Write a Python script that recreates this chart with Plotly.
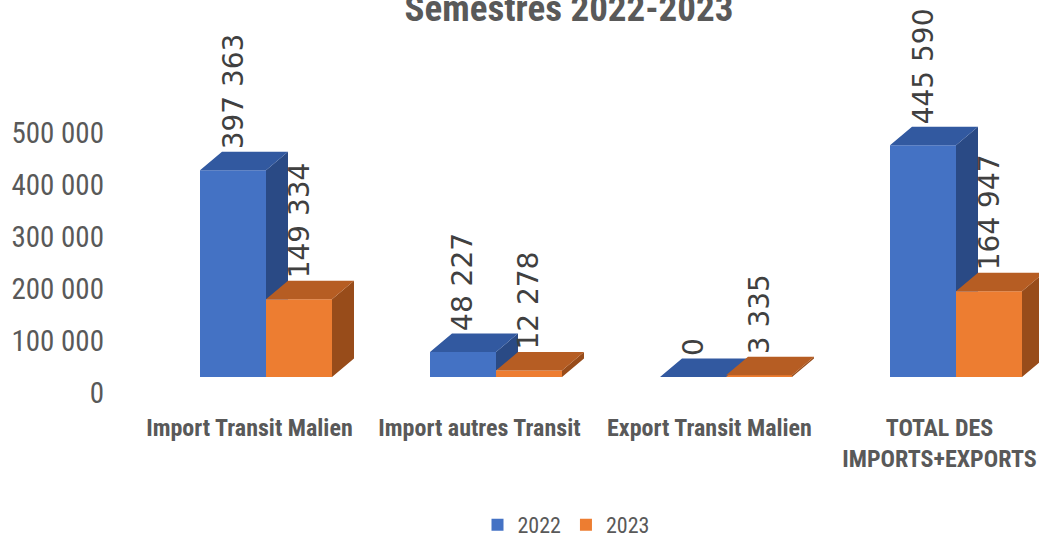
import plotly.graph_objects as go

# ---------------- data ----------------
categories = ["Import Transit Malien", "Import autres Transit",
              "Export Transit Malien", "TOTAL DES<br>IMPORTS+EXPORTS"]
series_names = ["2022", "2023"]
values_2022 = [397363, 48227, 0, 445590]
values_2023 = [149334, 12278, 3335, 164947]
y_tick_values = [0, 100000, 200000, 300000, 400000, 500000]
title_text = "Semestres 2022-2023"

# ---------------- style / geometry ----------------
W, H = 1039, 538
M_L, M_R, M_T, M_B = 115, 0, 20, 161
PX_PER_CAT = 230.0          # pixels between category centres
FIRST_CENTER_PX = 266.0     # pixel x of first category centre
PX_PER_UNIT_Y = 52.0 / 100000.0
BAR_W = 66.0 / PX_PER_CAT   # bar width in category units
DX = 22.0 / PX_PER_CAT      # 3D depth (horizontal)
DY = 18.5 / PX_PER_UNIT_Y   # 3D depth (vertical) in data units

plot_w = W - M_L - M_R
plot_h = H - M_T - M_B
x_range = [(M_L - FIRST_CENTER_PX) / PX_PER_CAT,
           (W - M_R - FIRST_CENTER_PX) / PX_PER_CAT]
y_range = [0, plot_h / PX_PER_UNIT_Y]

colors = {
    "2022": {"front": "#4472C4", "top": "#3259A0", "side": "#2A4A85"},
    "2023": {"front": "#ED7D31", "top": "#B65D23", "side": "#984C1A"},
}
GREY = "#595959"
LABEL_GREY = "#404040"
NARROW = "Liberation Sans Narrow, Arial Narrow, Roboto Condensed, sans-serif"


def fmt(v):
    return f"{v:,}".replace(",", " ")


xs = list(range(len(categories)))
fig = go.Figure()

series = [("2022", values_2022, -BAR_W), ("2023", values_2023, 0.0)]

# front faces (real bars)
for name, vals, off in series:
    fig.add_trace(go.Bar(
        x=xs, y=vals, name=name, offset=off, width=BAR_W,
        marker=dict(color=colors[name]["front"], line=dict(width=0)),
        hovertemplate="%{y:,}<extra>" + name + "</extra>",
    ))


def poly_trace(px, py, color):
    return go.Scatter(x=px, y=py, mode="lines", fill="toself",
                      fillcolor=color, line=dict(width=0, color=color),
                      hoverinfo="skip", showlegend=False)


# 3D faces (derived from data values)
for name, vals, off in series:
    side_x, side_y, top_x, top_y = [], [], [], []
    for i, v in enumerate(vals):
        x0 = i + off
        x1 = x0 + BAR_W
        if name == "2022":
            o = values_2023[i]  # part hidden behind next series' front face
            lo_l = max(o, 0)
            lo_r = max(o, DY)
            side_x += [x1, x1 + DX, x1 + DX, x1, x1, None]
            side_y += [lo_l, lo_r, max(v + DY, lo_r), max(v, lo_l), lo_l, None]
        else:
            side_x += [x1, x1 + DX, x1 + DX, x1, x1, None]
            side_y += [0, DY, v + DY, v, 0, None]
        top_x += [x0, x1, x1 + DX, x0 + DX, x0, None]
        top_y += [v, v, v + DY, v + DY, v, None]
    fig.add_trace(poly_trace(side_x, side_y, colors[name]["side"]))
    fig.add_trace(poly_trace(top_x, top_y, colors[name]["top"]))

# data labels
for name, vals, off in series:
    for i, v in enumerate(vals):
        fig.add_annotation(
            x=i + off + BAR_W / 2, y=v, yshift=19, text=fmt(v),
            textangle=-90, showarrow=False, xanchor="center", yanchor="bottom",
            font=dict(family="DejaVu Sans", size=28, color=LABEL_GREY),
        )

fig.update_layout(
    width=W, height=H,
    margin=dict(l=M_L, r=M_R, t=M_T, b=M_B, pad=0),
    paper_bgcolor="white", plot_bgcolor="white",
    barmode="overlay",
    showlegend=True,
    title=dict(text="<b>" + title_text + "</b>", x=569 / W, xref="container",
               xanchor="center", y=(H - 21) / H, yref="container", yanchor="bottom",
               font=dict(family=NARROW, size=37, color=GREY)),
    legend=dict(orientation="h", x=566 / W, xref="container", xanchor="center",
                y=13 / H, yref="container", yanchor="middle",
                font=dict(family=NARROW, size=22, color=GREY),
                itemwidth=30, tracegroupgap=0),
    xaxis=dict(range=x_range, tickvals=[i - 0.072 for i in xs],
               ticktext=["<b>" + c.replace("<br>", "</b><br><b>") + "</b>" for c in categories],
               tickfont=dict(family=NARROW, size=24, color=GREY),
               showgrid=False, zeroline=False, showline=False, ticks="",
               ticklabelstandoff=34),
    yaxis=dict(range=y_range, tickvals=y_tick_values,
               ticktext=[fmt(v) for v in y_tick_values],
               tickfont=dict(family=NARROW, size=29, color=GREY),
               showgrid=False, zeroline=False, showline=False, ticks="",
               ticklabelshift=16, ticklabelstandoff=10),
)

fig.write_html("out.html",
               config={"displayModeBar": False},
               post_script="document.body.style.margin='0px';"
                           "document.body.style.overflow='hidden';")
